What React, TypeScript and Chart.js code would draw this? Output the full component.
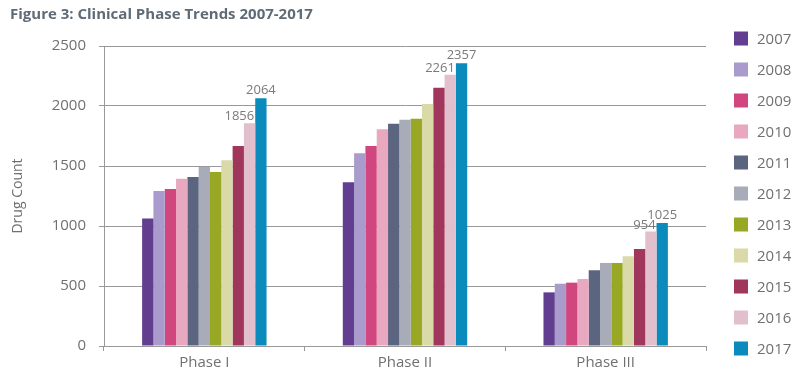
import React, { useEffect, useRef } from "react";
import { Chart, registerables } from "chart.js";

Chart.register(...registerables);

const phases = ["Phase I", "Phase II", "Phase III"];
const years = ["2007", "2008", "2009", "2010", "2011", "2012", "2013", "2014", "2015", "2016", "2017"];
const v2007 = [1062, 1364, 447];
const v2008 = [1292, 1606, 519];
const v2009 = [1308, 1667, 528];
const v2010 = [1394, 1806, 558];
const v2011 = [1408, 1853, 631];
const v2012 = [1492, 1886, 692];
const v2013 = [1450, 1894, 692];
const v2014 = [1547, 2017, 747];
const v2015 = [1667, 2153, 808];
const v2016 = [1856, 2261, 954];
const v2017 = [2064, 2357, 1025];
const seriesValues = [v2007, v2008, v2009, v2010, v2011, v2012, v2013, v2014, v2015, v2016, v2017];
const seriesColors = [
  "#613e8f", "#a99bcb", "#d2467f", "#e8a8c0", "#5c6580", "#a8abb8",
  "#98a824", "#d9daa8", "#a1365c", "#e2bfcc", "#0a8bbc",
];
const labeledYears = ["2016", "2017"];
const yTicks = [0, 500, 1000, 1500, 2000, 2500];

const FONT = "'Open Sans', sans-serif";
const TEXT = "#707070";
const GRID = "#999999";

const overlayPlugin = {
  id: "overlay",
  afterDatasetsDraw(chart: any) {
    const ctx = chart.ctx;
    ctx.save();
    // value labels
    ctx.font = `13px ${FONT}`;
    ctx.fillStyle = "#7a7a7a";
    ctx.textBaseline = "alphabetic";
    chart.data.datasets.forEach((ds: any, di: number) => {
      if (!labeledYears.includes(ds.label)) return;
      const meta = chart.getDatasetMeta(di);
      meta.data.forEach((bar: any, i: number) => {
        const val = ds.data[i];
        if (ds.label === "2016") {
          ctx.textAlign = "right";
          ctx.fillText(String(val), bar.x + bar.width / 2 - 1, bar.y - 3);
        } else {
          ctx.textAlign = "center";
          ctx.fillText(String(val), bar.x, bar.y - 4);
        }
      });
    });
    // title
    ctx.font = `bold 15px ${FONT}`;
    ctx.fillStyle = "#5f6b76";
    ctx.textAlign = "left";
    ctx.textBaseline = "middle";
    ctx.fillText("Figure 3: Clinical Phase Trends 2007-2017", 10, 15);
    // legend
    ctx.font = `15px ${FONT}`;
    chart.data.datasets.forEach((ds: any, di: number) => {
      const cy = 38.5 + di * 31;
      ctx.fillStyle = ds.backgroundColor;
      ctx.fillRect(734, cy - 7, 14, 14);
      ctx.fillStyle = TEXT;
      ctx.textAlign = "left";
      ctx.textBaseline = "middle";
      ctx.fillText(ds.label, 757, cy + 1);
    });
    ctx.restore();
  },
};

export default function App() {
  const ref = useRef<HTMLCanvasElement>(null);
  useEffect(() => {
    if (!ref.current) return;
    const chart = new Chart(ref.current, {
      type: "bar",
      data: {
        labels: phases,
        datasets: years.map((y, i) => ({
          label: y,
          data: seriesValues[i],
          backgroundColor: seriesColors[i],
          borderWidth: 0,
          barPercentage: 1,
          categoryPercentage: 0.62,
        })),
      },
      options: {
        animation: false,
        responsive: false,
        layout: { padding: { left: 10, right: 94, top: 46, bottom: 0 } },
        plugins: {
          legend: { display: false },
          title: { display: false },
          tooltip: { enabled: false },
        },
        scales: {
          x: {
            grid: { drawOnChartArea: false, drawTicks: true, tickLength: 5, color: GRID },
            border: { display: true, color: GRID, width: 1 },
            ticks: { color: TEXT, font: { family: FONT, size: 15 }, padding: 3 },
            afterFit: (s: any) => { s.height = 30; },
          },
          y: {
            min: 0,
            max: 2500,
            afterBuildTicks: (s: any) => { s.ticks = yTicks.map((v) => ({ value: v })); },
            grid: { color: GRID, tickLength: 5, lineWidth: 1 },
            border: { display: true, color: GRID, width: 1 },
            ticks: {
              color: TEXT,
              font: { family: FONT, size: 15 },
              padding: 13,
              callback: (v: any) => String(v),
            },
            title: {
              display: true,
              text: "Drug Count",
              color: TEXT,
              font: { family: FONT, size: 14 },
              padding: { top: 0, bottom: 0 },
            },
            afterFit: (s: any) => { s.width = 94; },
          },
        },
      },
      plugins: [overlayPlugin],
    });
    return () => chart.destroy();
  }, []);
  return (
    <div style={{ position: "fixed", left: 0, top: 0, width: 800, height: 376, background: "#fff" }}>
      <canvas ref={ref} width={800} height={376} style={{ width: 800, height: 376, display: "block" }} />
    </div>
  );
}
